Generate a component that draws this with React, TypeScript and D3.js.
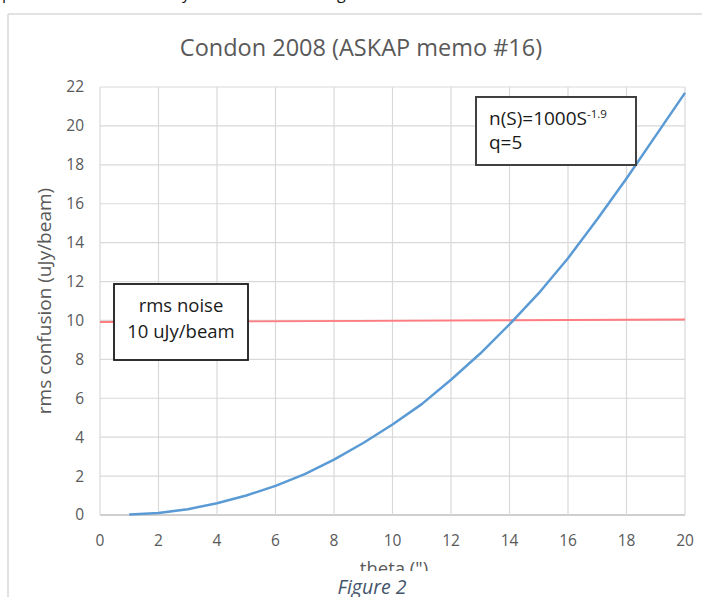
import React from "react";
import * as d3 from "d3";

const theta = [1, 2, 3, 4, 5, 6, 7, 8, 9, 10, 11, 12, 13, 14, 15, 16, 17, 18, 19, 20];
const confusion = [0.02, 0.1, 0.3, 0.6, 1.0, 1.5, 2.1, 2.85, 3.7, 4.65, 5.7, 6.95, 8.3, 9.8, 11.4, 13.2, 15.2, 17.3, 19.5, 21.7];
const noiseTheta = [0, 20];
const noiseValues = [9.92, 10.05];
const xTicks = [0, 2, 4, 6, 8, 10, 12, 14, 16, 18, 20];
const yTicks = [0, 2, 4, 6, 8, 10, 12, 14, 16, 18, 20, 22];

const W = 702;
const H = 597;
const FONT = "'Open Sans', 'Noto Sans', sans-serif";

export default function App() {
  const x = d3.scaleLinear().domain([0, 20]).range([100, 685]);
  const y = d3.scaleLinear().domain([0, 22]).range([515, 87]);

  const blue = d3
    .line<number>()
    .x((_, i) => x(theta[i]))
    .y((d) => y(d))(confusion) as string;
  const red = d3
    .line<number>()
    .x((_, i) => x(noiseTheta[i]))
    .y((d) => y(d))(noiseValues) as string;

  const grid = "#d9d9d9";
  const txt = "#595959";

  return (
    <svg
      width={W}
      height={H}
      style={{ position: "absolute", left: 0, top: 0, background: "#fff" }}
      fontFamily={FONT}
    >
      <defs>
        <clipPath id="chartClip">
          <rect x={0} y={0} width={W} height={571} />
        </clipPath>
      </defs>
      {/* cut-off text line above */}
      <text y={-1} fontSize={16} fill="#111" fontFamily={FONT}>
        <tspan x={2}>p</tspan>
        <tspan x={182}>y</tspan>
        <tspan x={337}>g</tspan>
      </text>
      {/* chart frame */}
      <line x1={8} x2={W} y1={14} y2={14} stroke={grid} strokeWidth={1.5} />
      <line x1={8} x2={8} y1={14} y2={H} stroke={grid} strokeWidth={1.5} />

      <g clipPath="url(#chartClip)">
        <text x={361} y={56} textAnchor="middle" fontSize={23.5} fill={txt}>
          Condon  2008 (ASKAP memo #16)
        </text>

        {/* grid */}
        {yTicks.map((t) => (
          <line key={"gy" + t} x1={x(0)} x2={x(20)} y1={y(t)} y2={y(t)} stroke={t === 0 ? "#bfbfbf" : grid} strokeWidth={t === 0 ? 1.5 : 1.2} />
        ))}
        {xTicks.map((t) => (
          <line key={"gx" + t} x1={x(t)} x2={x(t)} y1={y(22)} y2={y(0)} stroke={grid} strokeWidth={1.2} />
        ))}

        {/* y tick labels */}
        {yTicks.map((t) => (
          <text key={"ty" + t} x={84} y={y(t)} dy="0.35em" textAnchor="end" fontSize={15.5} fill={txt}>
            {t}
          </text>
        ))}
        {/* x tick labels */}
        {xTicks.map((t) => (
          <text key={"tx" + t} x={x(t)} y={546} textAnchor="middle" fontSize={15.5} fill={txt}>
            {t}
          </text>
        ))}

        {/* axis titles */}
        <text
          transform={`translate(51,${y(11.0)}) rotate(-90)`}
          textAnchor="middle"
          fontSize={19}
          fill={txt}
        >
          rms confusion (uJy/beam)
        </text>
        <text x={394} y={575} textAnchor="middle" fontSize={18.5} fill={txt}>
          theta (")
        </text>

        {/* series */}
        <path d={red} fill="none" stroke="#ff7c80" strokeWidth={1.8} />
        <path d={blue} fill="none" stroke="#5b9bd5" strokeWidth={2.5} strokeLinejoin="round" />

        {/* annotation boxes */}
        <rect x={476} y={97} width={160} height={68} fill="#fff" stroke="#404040" strokeWidth={2} />
        <text x={489} y={125} fontSize={19} fill="#1a1a1a">
          n(S)=1000S
          <tspan fontSize={11.5} dy={-7}>-1.9</tspan>
        </text>
        <text x={489} y={149} fontSize={19} fill="#1a1a1a">
          q=5
        </text>

        <rect x={114} y={284} width={134} height={76} fill="#fff" stroke="#1a1a1a" strokeWidth={1.8} />
        <text x={181} y={312} textAnchor="middle" fontSize={18.5} fill="#1a1a1a">
          rms noise
        </text>
        <text x={181} y={338} textAnchor="middle" fontSize={18.5} fill="#1a1a1a">
          10 uJy/beam
        </text>
      </g>

      <text x={372} y={594} textAnchor="middle" fontSize={19.5} fontStyle="italic" fill="#44546a">
        Figure 2
      </text>
    </svg>
  );
}
